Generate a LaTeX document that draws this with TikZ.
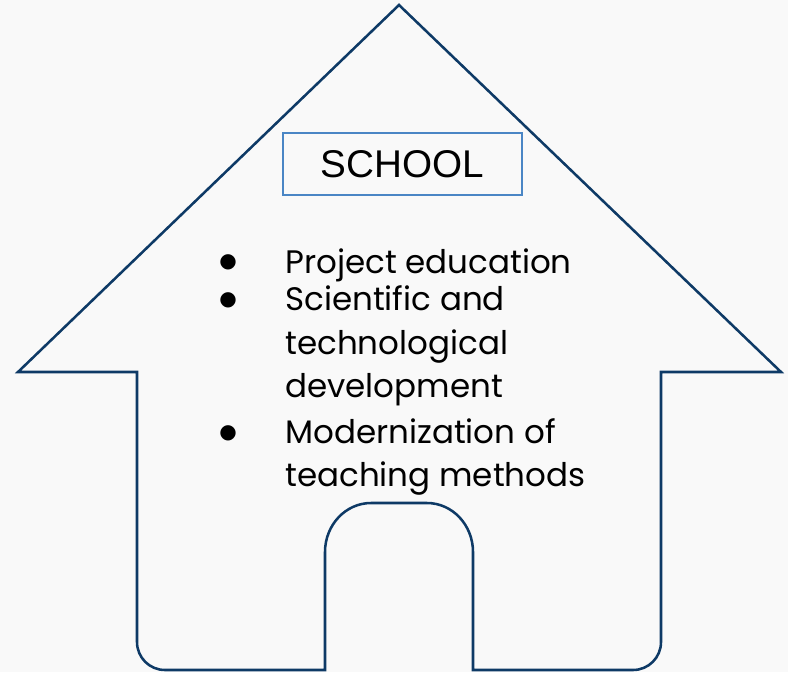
\documentclass[tikz,border=0pt]{standalone}
\usepackage{fontspec}
\setmainfont{Poppins}
\newfontfamily\arialfont{Liberation Sans}
\newfontfamily\symfont{DejaVu Sans}
\definecolor{bgc}{HTML}{F9F9F9}
\definecolor{housec}{HTML}{0E3A66}
\definecolor{boxc}{HTML}{4A86C5}
\tikzset{
  houseline/.style={draw=housec, line width=1.9pt, line join=miter},
  itemtext/.style={anchor=base west, inner sep=0pt, font=\fontsize{24.4}{28}\selectfont, text=black},
  bulletmark/.style={inner sep=0pt, font=\symfont\fontsize{15}{18}\selectfont, text=black},
  titlebox/.style={draw=boxc, line width=1.1pt, minimum width=179.25pt, minimum height=46.5pt, inner sep=0pt, font=\arialfont\fontsize{29}{34}\selectfont}
}
\begin{document}
\begin{tikzpicture}[x=0.75pt,y=-0.75pt]
\fill[bgc] (0,0) rectangle (788,672);
\useasboundingbox (0,0) rectangle (788,672);
% house outline
\coordinate (apex) at (399,5);
\draw[houseline] (137,372) -- (18,372) -- (apex) -- (781,372) -- (661,372)
  -- (661,642) .. controls (661,657.5) and (648.5,670) .. (633,670)
  -- (473,670) -- (473,552)
  .. controls (473,525) and (452.4,503) .. (427,503)
  -- (371,503)
  .. controls (345.6,503) and (325,525) .. (325,552)
  -- (325,670) -- (165,670)
  .. controls (149.5,670) and (137,657.5) .. (137,642)
  -- cycle;
% title
\node[titlebox] (title) at (402.5,164) {SCHOOL};
% bullets
\node[bulletmark] (b1) at (228,262) {●};
\node[bulletmark] (b2) at (228,300) {●};
\node[bulletmark] (b3) at (228,433) {●};
\node[itemtext] (l1) at (285,273) {Project education};
\node[itemtext] (l2) at (285,310) {Scientific and};
\node[itemtext] (l3) at (285,354) {technological};
\node[itemtext] (l4) at (285,397) {development};
\node[itemtext] (l5) at (285,443) {Modernization of};
\node[itemtext] (l6) at (285,486) {teaching methods};
\end{tikzpicture}
\end{document}
